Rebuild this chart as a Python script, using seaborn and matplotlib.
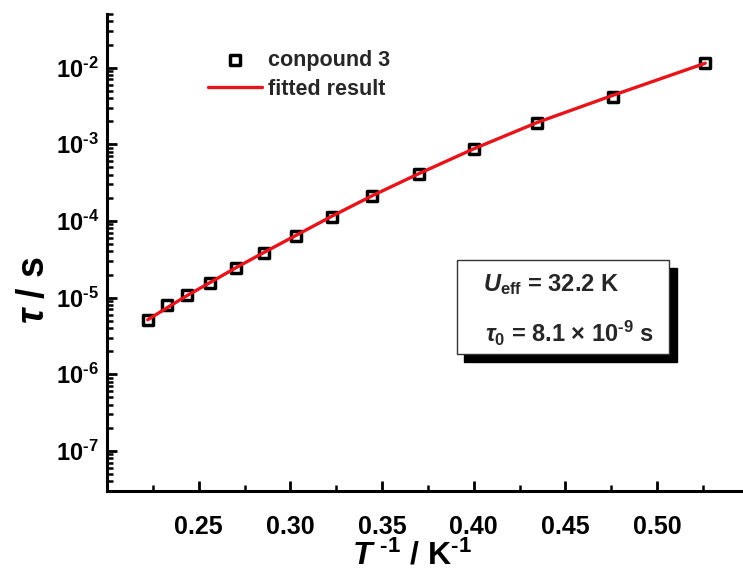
import numpy as np
import pandas as pd
import matplotlib
matplotlib.use("Agg")
import matplotlib.pyplot as plt
from matplotlib.ticker import FixedLocator, LogLocator, FuncFormatter, NullFormatter
from matplotlib.patches import Rectangle
import seaborn as sns

# Relaxation time versus inverse temperature
inv_T = [0.2222, 0.2326, 0.2439, 0.2564, 0.2703, 0.2857, 0.3030,
         0.3226, 0.3448, 0.3704, 0.4000, 0.4348, 0.4762, 0.5263]
tau_exp = [5.13e-6, 8.05e-6, 1.09e-5, 1.57e-5, 2.43e-5, 3.82e-5, 6.30e-5,
           1.14e-4, 2.14e-4, 4.15e-4, 8.55e-4, 1.92e-3, 4.18e-3, 1.14e-2]
tau_fit = [5.13e-6, 7.33e-6, 1.07e-5, 1.58e-5, 2.45e-5, 3.89e-5, 6.46e-5,
           1.15e-4, 2.14e-4, 4.17e-4, 8.71e-4, 1.93e-3, 4.37e-3, 1.14e-2]

x_ticks = [0.25, 0.30, 0.35, 0.40, 0.45, 0.50]
x_tick_labels = ["0.25", "0.30", "0.35", "0.40", "0.45", "0.50"]
y_decades = [-7, -6, -5, -4, -3, -2]

label_exp = "conpound 3"
label_fit = "fitted result"
text_ueff = r"$\mathit{U}_{\mathrm{eff}}$ = 32.2 K"
text_tau0 = r"$\mathit{\tau}_{\mathrm{0}}$ = 8.1 × 10$^{\text{-}\mathrm{9}}$ s"

sns.set_theme(style="ticks")
plt.rcParams["font.family"] = ["Liberation Sans", "DejaVu Sans"]
plt.rcParams["font.weight"] = "bold"
plt.rcParams["mathtext.fontset"] = "custom"
plt.rcParams["mathtext.rm"] = "Liberation Sans:bold"
plt.rcParams["mathtext.bf"] = "Liberation Sans:bold"
plt.rcParams["mathtext.it"] = "Liberation Sans:bold:italic"
plt.rcParams["axes.unicode_minus"] = False

df_exp = pd.DataFrame({"x": inv_T, "tau": tau_exp})
df_fit = pd.DataFrame({"x": inv_T, "tau": tau_fit})

fig = plt.figure(figsize=(7.43, 5.75), dpi=100)
ax = fig.add_axes([107 / 743, 84 / 575, 641.7 / 743, 477 / 575])

sns.scatterplot(data=df_exp, x="x", y="tau", ax=ax, marker="s", s=50,
                facecolor="white", edgecolor="black", linewidth=2.5,
                label=label_exp, zorder=3)
sns.lineplot(data=df_fit, x="x", y="tau", ax=ax, color="#e8141b",
             linewidth=2.4, sort=False, estimator=None, label=label_fit,
             zorder=4)

ax.set_yscale("log")
ax.set_xlim(0.20, 0.55)
ax.set_ylim(3e-8, 5e-2)

for side in ("top", "right"):
    ax.spines[side].set_visible(False)
for side in ("left", "bottom"):
    ax.spines[side].set_linewidth(2.2)
    ax.spines[side].set_color("black")

ax.xaxis.set_major_locator(FixedLocator(x_ticks))
ax.set_xticklabels(x_tick_labels)
ax.xaxis.set_minor_locator(FixedLocator([0.225, 0.275, 0.325, 0.375,
                                         0.425, 0.475, 0.525]))
ax.yaxis.set_major_locator(FixedLocator([10.0 ** d for d in y_decades]))
ax.yaxis.set_major_formatter(FuncFormatter(
    lambda v, p: r"$\mathrm{10^{\text{-}%d}}$" % abs(int(round(np.log10(v))))))
ax.yaxis.set_minor_locator(LogLocator(base=10, subs=np.arange(2, 10), numticks=20))
ax.yaxis.set_minor_formatter(NullFormatter())

ax.tick_params(axis="both", which="major", direction="in", length=7,
               width=2.0, color="black", labelsize=17, labelcolor="black")
ax.tick_params(axis="both", which="minor", direction="in", length=4,
               width=1.8, color="black")
ax.tick_params(axis="x", which="major", pad=17, labelsize=18)
ax.tick_params(axis="y", which="major", pad=6)
for lab in ax.get_xticklabels() + ax.get_yticklabels():
    lab.set_fontweight("bold")

ax.set_xlabel(r"$\mathit{T}^{\text{ -}\mathrm{1}}$ / K$^{\text{-}\mathrm{1}}$", fontsize=23,
              fontweight="bold", color="black")
ax.xaxis.set_label_coords((412 - 107) / 641.7, -0.104)
ax.set_ylabel(r"$\mathit{\tau}$ / s", fontsize=27, fontweight="bold",
              color="black")
ax.yaxis.set_label_coords(-0.085, (491 - 290) / 477)

ax.grid(False)

leg = ax.legend(loc="upper left", bbox_to_anchor=((208 - 107) / 641.7, (491 - 50) / 477),
                frameon=False, fontsize=15.5, handlelength=2.5, handletextpad=0.3,
                labelspacing=0.35, borderpad=0, borderaxespad=0)
for t in leg.get_texts():
    t.set_fontweight("bold")

# Parameter box with a drop shadow
bx0, bx1 = (456.7 - 107) / 641.7, (669.3 - 107) / 641.7
by0, by1 = (491 - 354) / 477, (491 - 260) / 477
dx, dy = 7.7 / 641.7, 7.7 / 477
ax.add_patch(Rectangle((bx0 + dx, by0 - dy), bx1 - bx0, by1 - by0,
                       transform=ax.transAxes, facecolor="black",
                       edgecolor="black", zorder=5))
ax.add_patch(Rectangle((bx0, by0), bx1 - bx0, by1 - by0,
                       transform=ax.transAxes, facecolor="white",
                       edgecolor="#333333", linewidth=1.0, zorder=6))
ax.text((483 - 107) / 641.7, (491 - 285) / 477, text_ueff, transform=ax.transAxes,
        fontsize=17, fontweight="bold", va="center", ha="left", zorder=7)
ax.text((485 - 107) / 641.7, (491 - 333) / 477, text_tau0, transform=ax.transAxes,
        fontsize=17, fontweight="bold", va="center", ha="left", zorder=7)

fig.savefig("out.png", dpi=100)
